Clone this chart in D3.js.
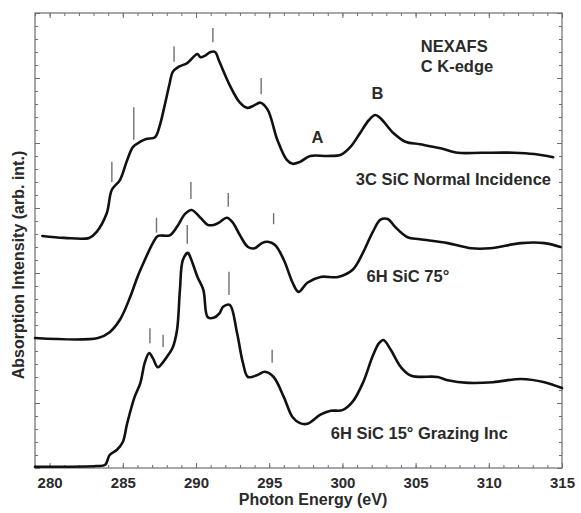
<!DOCTYPE html>
<html>
<head>
<meta charset="utf-8">
<script src="https://cdn.jsdelivr.net/npm/d3@7"></script>
<style>
  html, body { margin: 0; padding: 0; background: #fff; }
  svg { display: block; }
  text { font-family: "Liberation Sans", Arial, sans-serif; font-weight: bold; fill: #2a2a2a; }
</style>
</head>
<body>
<svg id="chart" width="581" height="513"></svg>
<script>
// C K-edge NEXAFS spectra: [photon energy (eV), intensity (arb., offset per trace)]
const spectrum3C = [
  [279.5, 3.57], [281.0, 3.54], [282.7, 3.54], [283.2, 3.63], [283.9, 3.92],
  [284.25, 4.28], [284.8, 4.43], [285.3, 4.74], [285.7, 4.94], [286.2, 5.02],
  [286.6, 5.06], [287.2, 5.09], [287.5, 5.25], [287.9, 5.62], [288.2, 5.92],
  [288.4, 6.09], [288.8, 6.17], [289.4, 6.23], [290.1, 6.37], [290.3, 6.32],
  [290.6, 6.34], [291.0, 6.40], [291.3, 6.40], [291.6, 6.25], [292.3, 5.89],
  [293.0, 5.62], [293.5, 5.54], [293.9, 5.57], [294.4, 5.62], [294.9, 5.51],
  [295.55, 5.05], [296.2, 4.74], [296.6, 4.68], [297.1, 4.71], [297.8, 4.80],
  [299.0, 4.80], [299.9, 4.82], [300.55, 4.94], [301.2, 5.15], [301.8, 5.35],
  [302.25, 5.43], [302.6, 5.38], [303.5, 5.15], [304.3, 5.02], [305.3, 4.98],
  [306.7, 4.92], [307.9, 4.85], [309.5, 4.85], [311.7, 4.85], [313.1, 4.83],
  [314.4, 4.78]
];
const spectrum6H75 = [
  [279.0, 2.00], [283.3, 2.00], [284.1, 2.09], [284.8, 2.28], [285.5, 2.63],
  [286.0, 2.94], [286.5, 3.20], [287.05, 3.46], [287.4, 3.57], [288.2, 3.58],
  [288.7, 3.71], [289.25, 3.91], [289.7, 3.97], [290.3, 3.85], [290.8, 3.74],
  [291.2, 3.74], [291.6, 3.78], [292.1, 3.85], [292.5, 3.78], [293.0, 3.58],
  [293.55, 3.40], [294.0, 3.38], [294.5, 3.46], [294.9, 3.48], [295.4, 3.43],
  [296.0, 3.20], [296.6, 2.85], [297.0, 2.71], [297.6, 2.85], [298.5, 2.94],
  [299.7, 2.94], [300.7, 3.05], [301.4, 3.31], [302.05, 3.62], [302.6, 3.82],
  [303.1, 3.83], [303.6, 3.71], [304.45, 3.55], [305.3, 3.52], [307.2, 3.46],
  [308.8, 3.38], [310.1, 3.38], [312.2, 3.46], [313.8, 3.46], [314.9, 3.40]
];
const spectrum6H15 = [
  [279.0, 0.02], [283.2, 0.03], [283.8, 0.05], [284.1, 0.20], [284.6, 0.28],
  [285.0, 0.40], [285.3, 0.69], [285.8, 1.09], [286.2, 1.31], [286.5, 1.62],
  [286.8, 1.77], [287.05, 1.69], [287.4, 1.55], [287.75, 1.63], [288.1, 1.74],
  [288.4, 1.85], [288.7, 2.12], [288.9, 2.74], [289.1, 3.20], [289.45, 3.31],
  [289.6, 3.25], [290.1, 2.94], [290.5, 2.74], [290.8, 2.32], [291.2, 2.31],
  [291.6, 2.38], [291.85, 2.48], [292.3, 2.51], [292.8, 2.08], [293.2, 1.62],
  [293.55, 1.40], [294.2, 1.43], [294.7, 1.48], [295.3, 1.40], [296.0, 1.09],
  [296.6, 0.78], [297.1, 0.69], [297.6, 0.68], [298.5, 0.82], [299.2, 0.88],
  [300.0, 0.89], [300.7, 1.02], [301.4, 1.31], [302.05, 1.71], [302.5, 1.92],
  [302.8, 1.97], [303.3, 1.82], [304.0, 1.55], [304.7, 1.42], [306.5, 1.40],
  [307.2, 1.35], [308.6, 1.31], [310.3, 1.32], [312.2, 1.37], [313.8, 1.32],
  [315.0, 1.23]
];

// Feature markers: [energy, lower intensity, upper intensity]
const markers3C   = [[284.25, 4.40, 4.71], [285.75, 5.05, 5.55], [288.5, 6.25, 6.49], [291.15, 6.55, 6.77], [294.45, 5.75, 6.00]];
const markers6H75 = [[287.3, 3.62, 3.85], [289.65, 4.14, 4.40], [292.2, 4.02, 4.23], [295.3, 3.75, 3.92]];
const markers6H15 = [[286.85, 1.92, 2.15], [287.75, 1.86, 2.05], [289.4, 3.45, 3.74], [292.25, 2.66, 3.02], [295.2, 1.62, 1.82]];

// Text annotations: [text, energy, intensity, anchor]
const annotations = [
  ["NEXAFS", 305.35, 6.40, "start"],
  ["C K-edge", 305.35, 6.09, "start"],
  ["B", 302.4, 5.68, "middle"],
  ["A", 298.3, 5.00, "middle"],
  ["3C SiC Normal Incidence", 314.25, 4.35, "end"],
  ["6H SiC 75°", 301.65, 2.86, "start"],
  ["6H SiC 15° Grazing Inc", 299.2, 0.45, "start"]
];

const xMajorTicks = [280, 285, 290, 295, 300, 305, 310, 315];
const xTickLabels = ["280", "285", "290", "295", "300", "305", "310", "315"];
const xMinorTicks = d3.range(279, 316, 1);
const yMajorTicks = d3.range(0, 7.01, 1);
const yMinorTicks = d3.range(0, 7.01, 0.2);

const svg = d3.select("#chart");
const margin = { left: 35, top: 13, right: 19, bottom: 45 };
const W = 581, H = 513;
const x = d3.scaleLinear().domain([279, 315]).range([margin.left, W - margin.right]);
const y = d3.scaleLinear().domain([0, 7]).range([H - margin.bottom, margin.top]);

const axisColor = "#6e6e6e";

function styleAxis(g) {
  g.select(".domain").remove();
  g.selectAll(".tick line").attr("stroke", axisColor).attr("stroke-width", 1);
}

// bottom axis: labelled major ticks plus minor ticks, all pointing inward
svg.append("g")
  .attr("transform", `translate(0,${y(0)})`)
  .call(d3.axisBottom(x).tickValues(xMinorTicks).tickSize(-3).tickFormat(""))
  .call(styleAxis);
svg.append("g")
  .attr("transform", `translate(0,${y(0)})`)
  .call(d3.axisBottom(x).tickValues(xMajorTicks).tickSize(-5).tickPadding(9)
    .tickFormat((d, i) => xTickLabels[i]))
  .call(styleAxis)
  .call(g => g.selectAll("text").attr("font-size", 15).attr("fill", "#2a2a2a")
    .style("font-family", "'Liberation Sans', Arial, sans-serif").style("font-weight", "bold"));

// top axis
svg.append("g")
  .attr("transform", `translate(0,${y(7)})`)
  .call(d3.axisTop(x).tickValues(xMinorTicks).tickSize(-3).tickFormat(""))
  .call(styleAxis);
svg.append("g")
  .attr("transform", `translate(0,${y(7)})`)
  .call(d3.axisTop(x).tickValues(xMajorTicks).tickSize(-5).tickFormat(""))
  .call(styleAxis);

// left and right axes (unlabelled)
[[d3.axisLeft, x(279)], [d3.axisRight, x(315)]].forEach(([axisFn, pos]) => {
  svg.append("g")
    .attr("transform", `translate(${pos},0)`)
    .call(axisFn(y).tickValues(yMinorTicks).tickSize(-3).tickFormat(""))
    .call(styleAxis);
  svg.append("g")
    .attr("transform", `translate(${pos},0)`)
    .call(axisFn(y).tickValues(yMajorTicks).tickSize(-5).tickFormat(""))
    .call(styleAxis);
});

// plot frame
svg.append("rect")
  .attr("x", x(279)).attr("y", y(7))
  .attr("width", x(315) - x(279)).attr("height", y(0) - y(7))
  .attr("fill", "none").attr("stroke", axisColor).attr("stroke-width", 1.2);

// feature markers
const allMarkers = [...markers3C, ...markers6H75, ...markers6H15];
svg.append("g").selectAll("line").data(allMarkers).join("line")
  .attr("x1", d => x(d[0])).attr("x2", d => x(d[0]))
  .attr("y1", d => y(d[1])).attr("y2", d => y(d[2]))
  .attr("stroke", "#707070").attr("stroke-width", 1.4);

// spectra
const line = d3.line()
  .x(d => x(d[0])).y(d => y(d[1]))
  .curve(d3.curveCatmullRom.alpha(0.5));
[spectrum3C, spectrum6H75, spectrum6H15].forEach(s => {
  svg.append("path").datum(s)
    .attr("d", line)
    .attr("fill", "none")
    .attr("stroke", "#111")
    .attr("stroke-width", 2.6)
    .attr("stroke-linejoin", "round")
    .attr("stroke-linecap", "round");
});

// annotations
svg.append("g").selectAll("text").data(annotations).join("text")
  .attr("x", d => x(d[1])).attr("y", d => y(d[2]))
  .attr("text-anchor", d => d[3])
  .attr("font-size", 16.5)
  .text(d => d[0]);

// axis titles
svg.append("text")
  .attr("x", 313).attr("y", 505)
  .attr("text-anchor", "middle")
  .attr("font-size", 16)
  .text("Photon Energy (eV)");
svg.append("text")
  .attr("transform", "translate(24,265) rotate(-90)")
  .attr("text-anchor", "middle")
  .attr("font-size", 16)
  .text("Absorption Intensity (arb. int.)");
</script>
</body>
</html>
